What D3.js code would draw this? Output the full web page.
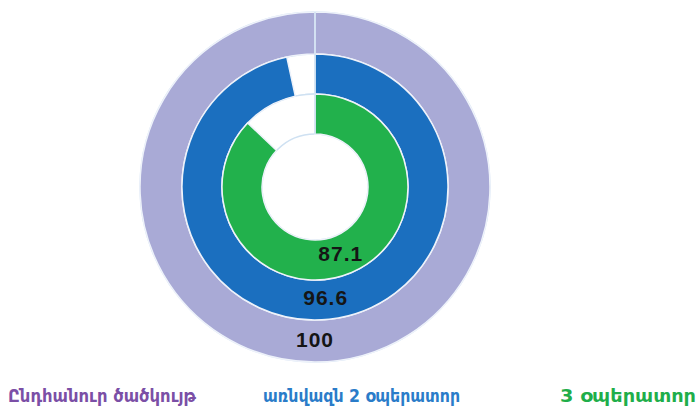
<!DOCTYPE html>
<html>
<head>
<meta charset="utf-8">
<script src="https://cdn.jsdelivr.net/npm/d3@7"></script>
<style>
  body { margin: 0; background: #fff; }
  svg { display: block; }
</style>
</head>
<body>
<div id="chart"></div>
<script>
// ring data, outer to inner
const series = ["Ընդհանուր ծածկույթ", "առնվազն 2 օպերատոր", "3 օպերատոր"];
const values = [100, 96.6, 87.1];
const labels = ["100", "96.6", "87.1"];

const ringColors = ["#a9aad6", "#1b6fbf", "#22b14c"];
const textColors = ["#7b4fa6", "#2a7cc9", "#1fae4a"];

const width = 699, height = 410;
const cx = 315, cy = 187;
const radii = [[133, 175], [93, 133], [53, 93]];
const labelAngle = [Math.PI, Math.PI * 0.97, Math.PI * 0.885];

const svg = d3.select("#chart").append("svg")
    .attr("width", width)
    .attr("height", height);

const g = svg.append("g")
    .attr("transform", `translate(${cx},${cy})`);

const scale = d3.scaleLinear().domain([0, 100]).range([0, 2 * Math.PI]);

// track rings (visible through the gaps)
g.selectAll("path.track")
  .data(values)
  .enter().append("path")
    .attr("class", "track")
    .attr("d", (d, i) => d3.arc()
        .innerRadius(radii[i][0])
        .outerRadius(radii[i][1])
        .startAngle(0)
        .endAngle(2 * Math.PI)())
    .attr("fill", "#fff")
    .attr("stroke", "#cfe1f2")
    .attr("stroke-width", 1.5);

// value rings
g.selectAll("path.value")
  .data(values)
  .enter().append("path")
    .attr("class", "value")
    .attr("d", (d, i) => d3.arc()
        .innerRadius(radii[i][0])
        .outerRadius(radii[i][1])
        .startAngle(0)
        .endAngle(scale(d) - 0.0001)())
    .attr("fill", (d, i) => ringColors[i])
    .attr("stroke", "#eef2fa")
    .attr("stroke-width", 1.5);

// seam at 12 o'clock
g.append("line")
    .attr("x1", 0).attr("x2", 0)
    .attr("y1", -radii[0][1]).attr("y2", -radii[2][0])
    .attr("stroke", "#cfe1f2")
    .attr("stroke-width", 1.5);

// value labels
const mid = i => (radii[i][0] + radii[i][1]) / 2;
g.selectAll("text.val")
  .data(labels)
  .enter().append("text")
    .attr("class", "val")
    .attr("x", (d, i) => Math.sin(labelAngle[i]) * mid(i))
    .attr("y", (d, i) => -Math.cos(labelAngle[i]) * mid(i) - 2)
    .attr("dy", "0.36em")
    .attr("text-anchor", "middle")
    .style("font-family", "'Liberation Sans', Arial, sans-serif")
    .style("font-weight", "bold")
    .style("font-size", "21px")
    .style("letter-spacing", "1px")
    .style("fill", "#151515")
    .text(d => d);

// legend
const legendX = [8, 263, 560];
const legendW = [188, 197, 136];
svg.selectAll("text.legend")
  .data(series)
  .enter().append("text")
    .attr("class", "legend")
    .attr("x", (d, i) => legendX[i])
    .attr("y", 402)
    .attr("textLength", (d, i) => legendW[i])
    .attr("lengthAdjust", "spacingAndGlyphs")
    .style("font-family", "'DejaVu Sans', 'Noto Sans', sans-serif")
    .style("font-weight", "bold")
    .style("font-size", "17px")
    .style("fill", (d, i) => textColors[i])
    .text(d => d);
</script>
</body>
</html>
